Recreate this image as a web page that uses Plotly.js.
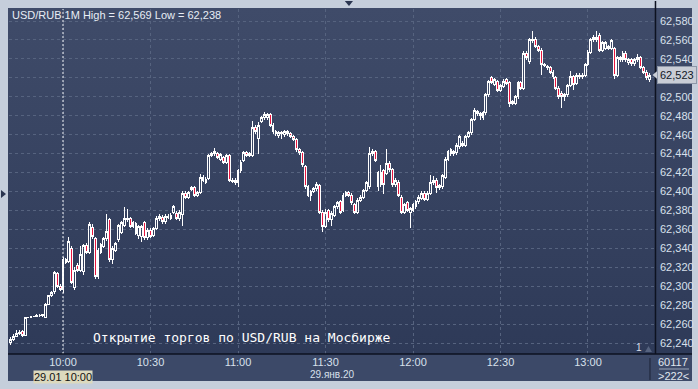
<!DOCTYPE html>
<html>
<head>
<meta charset="utf-8">
<script src="https://cdn.plot.ly/plotly-3.0.1.min.js"></script>
<style>
html,body{margin:0;padding:0;background:#c5cedb;width:698px;height:389px;overflow:hidden;}
#plotbg{position:absolute;left:8px;top:8px;width:684px;height:346px;background:linear-gradient(to bottom,#3f4b69,#2e3a58);}
#bottombar{position:absolute;left:8px;top:354px;width:684px;height:27px;background:#3c4968;}
#chart{position:absolute;left:0;top:0;width:698px;height:389px;}
#chart .cartesianlayer .trace path{shape-rendering:crispEdges;}
</style>
</head>
<body>
<div id="plotbg"></div>
<div id="bottombar"></div>
<div id="chart"></div>
<script>
// 1-minute candles, USD/RUB, 29.01.2020, starting 09:42
const START = '2020-01-29T09:42:00';
const openP = [62241,62244,62247,62250,62252,62248,62267,62267,62268,62268,62269,62269,62267,62281,62290,62294,62313,62300,62296,62328,
62326,62340,62299,62322,62317,62315,62343,62336,62362,62350,62310,62336,62342,62350,62370,62328,62338,62349,62357,62364,
62370,62371,62363,62366,62354,62352,62367,62351,62359,62354,62361,62371,62373,62368,62374,62372,62378,62377,62372,62376,
62398,62394,62404,62404,62396,62399,62412,62413,62414,62438,62440,62440,62434,62436,62431,62438,62412,62412,62409,62422,
62433,62441,62438,62438,62468,62456,62474,62478,62478,62481,62470,62463,62459,62461,62460,62463,62461,62458,62455,62444,
62441,62426,62405,62396,62400,62403,62406,62378,62363,62380,62370,62375,62384,62389,62380,62396,62399,62396,62386,62378,
62391,62394,62401,62405,62440,62442,62420,62407,62422,62419,62430,62423,62407,62410,62394,62378,62388,62378,62380,62384,
62389,62393,62398,62392,62398,62409,62412,62404,62405,62415,62434,62444,62440,62441,62447,62451,62449,62458,62462,62476,
62484,62482,62478,62483,62502,62520,62513,62516,62507,62511,62518,62515,62493,62493,62500,62515,62509,62546,62537,62559,
62560,62553,62549,62534,62532,62531,62526,62520,62509,62504,62500,62502,62512,62521,62514,62523,62521,62523,62534,62547,
62560,62563,62565,62549,62551,62553,62551,62551,62523,62541,62539,62546,62536,62539,62535,62539,62541,62531,62526,62518];
const highP = [62246,62250,62254,62254,62254,62268,62268,62269,62269,62271,62271,62271,62282,62291,62295,62316,62315,62302,62331,62330,
62352,62342,62320,62324,62342,62345,62346,62368,62366,62352,62340,62346,62352,62376,62372,62342,62347,62366,62369,62384,
62382,62373,62369,62368,62365,62365,62369,62361,62361,62363,62374,62376,62375,62376,62376,62377,62386,62379,62380,62400,
62400,62401,62406,62406,62401,62418,62417,62415,62440,62442,62446,62442,62441,62438,62440,62440,62414,62414,62424,62433,
62443,62443,62442,62474,62470,62473,62480,62484,62483,62483,62472,62465,62464,62464,62465,62465,62463,62460,62457,62446,
62443,62428,62407,62402,62405,62410,62408,62380,62381,62382,62379,62386,62390,62391,62398,62401,62401,62398,62388,62393,
62396,62403,62411,62447,62445,62444,62422,62428,62424,62445,62432,62425,62414,62412,62396,62388,62390,62384,62388,62391,
62396,62400,62400,62400,62417,62416,62414,62408,62419,62436,62444,62446,62444,62451,62460,62453,62460,62464,62478,62488,
62486,62484,62485,62504,62518,62522,62520,62518,62514,62519,62520,62517,62497,62502,62517,62517,62548,62548,62562,62569,
62563,62555,62551,62536,62534,62533,62528,62522,62511,62506,62504,62514,62527,62523,62525,62525,62525,62536,62549,62562,
62565,62569,62567,62559,62559,62555,62561,62553,62543,62543,62548,62548,62541,62541,62541,62545,62543,62533,62528,62525];
const lowP = [62238,62242,62246,62248,62246,62247,62266,62266,62267,62267,62268,62268,62266,62280,62289,62292,62298,62295,62293,62323,
62324,62302,62296,62315,62315,62312,62334,62334,62350,62308,62308,62334,62340,62348,62326,62323,62336,62347,62355,62362,
62368,62361,62361,62354,62350,62347,62349,62349,62351,62352,62359,62369,62366,62366,62371,62370,62376,62370,62369,62364,
62392,62392,62400,62394,62394,62397,62410,62408,62412,62436,62438,62434,62432,62429,62429,62410,62409,62407,62405,62420,
62431,62436,62436,62436,62461,62440,62472,62476,62476,62468,62461,62459,62456,62455,62458,62459,62456,62453,62442,62439,
62426,62403,62394,62390,62398,62401,62376,62357,62361,62368,62364,62373,62382,62376,62378,62394,62394,62386,62376,62376,
62389,62392,62399,62403,62438,62431,62400,62405,62397,62417,62421,62405,62405,62394,62376,62376,62378,62361,62378,62382,
62387,62391,62390,62390,62396,62407,62398,62402,62403,62413,62432,62438,62438,62439,62445,62447,62447,62456,62460,62474,
62480,62476,62476,62481,62500,62513,62511,62505,62505,62509,62512,62489,62491,62491,62498,62507,62507,62539,62535,62557,
62551,62547,62523,62531,62528,62524,62519,62507,62498,62488,62496,62500,62510,62507,62512,62519,62519,62521,62532,62545,
62558,62558,62547,62547,62549,62549,62549,62519,62521,62537,62537,62537,62534,62533,62533,62537,62529,62524,62518,62516];
const closeP = [62244,62247,62250,62251,62248,62267,62267,62268,62268,62269,62269,62270,62281,62290,62293,62314,62300,62297,62328,62325,
62347,62304,62317,62317,62333,62343,62336,62365,62352,62310,62338,62344,62350,62358,62328,62340,62345,62364,62367,62372,
62372,62363,62367,62356,62363,62363,62351,62359,62353,62361,62372,62374,62368,62374,62373,62375,62384,62372,62378,62398,
62394,62399,62402,62396,62399,62415,62415,62410,62438,62440,62442,62436,62439,62431,62438,62412,62411,62409,62422,62431,
62441,62438,62440,62468,62463,62470,62478,62481,62481,62470,62463,62461,62462,62462,62463,62461,62458,62455,62444,62441,
62428,62405,62396,62400,62403,62407,62378,62363,62378,62370,62377,62384,62388,62378,62396,62399,62396,62388,62378,62391,
62394,62401,62409,62440,62442,62433,62405,62420,62407,62430,62423,62407,62412,62396,62378,62386,62380,62382,62386,62389,
62394,62398,62392,62398,62409,62412,62404,62406,62417,62434,62442,62440,62442,62449,62458,62449,62458,62462,62476,62486,
62482,62480,62483,62502,62516,62515,62518,62507,62512,62516,62514,62493,62495,62500,62515,62509,62546,62541,62560,62561,
62553,62549,62534,62533,62531,62526,62521,62509,62500,62500,62502,62512,62521,62513,62523,62521,62523,62534,62547,62560,
62563,62560,62549,62557,62557,62551,62559,62523,62541,62539,62546,62539,62539,62535,62539,62541,62531,62526,62520,62523];
const yTicks = [62240,62260,62280,62300,62320,62340,62360,62380,62400,62420,62440,62460,62480,62500,62520,62540,62560,62580];
const barsLabel = '>222<';
const volLabel = '60117';

// minute timestamps
function pad(n){return (n<10?'0':'')+n;}
const t0 = new Date(START);
const times = openP.map((_, i) => {
  const d = new Date(t0.getTime() + i*60000);
  return '2020-01-29 ' + pad(d.getHours()) + ':' + pad(d.getMinutes());
});

const fmt = v => v.toLocaleString('en-US');
const hi = Math.max(...highP), lo = Math.min(...lowP);
const last = closeP[closeP.length-1];
// the last-price box hides the tick label it covers
const yText = yTicks.map(v => Math.abs(v - last) < 10 ? '' : fmt(v));

const trace = {
  type: 'candlestick',
  x: times, open: openP, high: highP, low: lowP, close: closeP,
  increasing: {line: {color: '#ffffff', width: 1}, fillcolor: 'rgba(0,0,0,0)'},
  decreasing: {line: {color: '#ffffff', width: 1}, fillcolor: '#e8163f'},
  whiskerwidth: 0,
  hoverinfo: 'skip',
  showlegend: false
};

const tickFont = {family: 'Liberation Sans, Arial, sans-serif', size: 11, color: '#d8e0ec'};

const layout = {
  width: 698, height: 389,
  margin: {l: 9, r: 42, t: 9, b: 35, pad: 0},
  paper_bgcolor: 'rgba(0,0,0,0)',
  plot_bgcolor: 'rgba(0,0,0,0)',
  showlegend: false,
  boxgap: 0.1,
  xaxis: {
    type: 'date',
    range: ['2020-01-29 09:41:29', '2020-01-29 13:23:19'],
    tickformat: '%H:%M', dtick: 1800000, tick0: '2020-01-29 10:00',
    showgrid: true, gridcolor: '#56637f', gridwidth: 1, griddash: '3px,3px',
    ticks: '', ticklabelstandoff: 0,
    tickfont: tickFont,
    showline: false, zeroline: false,
    rangeslider: {visible: false}, fixedrange: true
  },
  yaxis: {
    side: 'right',
    range: [62228.4, 62592.7],
    tickvals: yTicks, ticktext: yText,
    showgrid: true, gridcolor: '#56637f', gridwidth: 1, griddash: '3px,3px',
    ticks: '', ticklabelstandoff: 3,
    tickfont: tickFont,
    showline: false, zeroline: false, fixedrange: true
  },
  shapes: [
    {type: 'line', xref: 'x', yref: 'paper', x0: '2020-01-29 10:00', x1: '2020-01-29 10:00', y0: 0, y1: 1,
     line: {color: '#f2f4f8', width: 1, dash: '2px,2px'}},
    {type: 'line', xref: 'paper', yref: 'paper', x0: 0.9992, x1: 0.9992, y0: 0, y1: 1.0232,
     line: {color: '#0d1220', width: 1.5}},
    {type: 'line', xref: 'paper', yref: 'paper', x0: -0.0015, x1: 1.0556, y0: 0, y1: 0,
     line: {color: '#0d1220', width: 1.5}},
    {type: 'line', xref: 'paper', yref: 'paper', x0: 0.9907, x1: 0.9907, y0: -0.0116, y1: -0.0754,
     line: {color: '#1c2335', width: 1}},
    {type: 'line', xref: 'paper', yref: 'paper', x0: 1.0046, x1: 1.0510, y0: -0.0435, y1: -0.0435,
     line: {color: '#9aa6b8', width: 1}},
    {type: 'path', xref: 'paper', yref: 'paper', path: 'M 0.519 1.0232 L 0.5317 1.0232 L 0.5255 1.0087 Z',
     fillcolor: '#2a3550', line: {width: 0}},
    {type: 'path', xref: 'paper', yref: 'paper', path: 'M -0.01236 0.4754 L -0.01236 0.4522 L -0.00464 0.4638 Z',
     fillcolor: '#2a3550', line: {width: 0}},
    {type: 'path', xref: 'paper', yref: 'paper', path: 'M 0.9830 0.0058 L 0.9938 0.0058 L 0.9884 0.0232 Z',
     fillcolor: '#56637f', line: {width: 0}},
    {type: 'path', xref: 'paper', yref: 'y', path: 'M 0.9946 ' + last + ' L 1.0015 ' + (last+4) + ' L 1.0015 ' + (last-4) + ' Z',
     fillcolor: '#c9cdd6', line: {width: 0}}
  ],
  annotations: [
    {xref: 'paper', yref: 'paper', x: 0.0015, y: 0.9826, xanchor: 'left', yanchor: 'middle', showarrow: false,
     text: 'USD/RUB 1M High = ' + fmt(hi) + ' Low = ' + fmt(lo),
     font: {family: 'Liberation Sans, Arial, sans-serif', size: 11, color: '#e8edf5'}},
    {xref: 'paper', yref: 'y', x: 1.0015, y: last, xanchor: 'left', yanchor: 'middle', showarrow: false,
     text: fmt(last), bgcolor: '#c9cdd6', bordercolor: '#8e97a8', borderwidth: 1, borderpad: 2,
     font: {family: 'Liberation Sans, Arial, sans-serif', size: 11, color: '#111827'}},
    {xref: 'paper', yref: 'paper', x: 0.1267, y: 0.0464, xanchor: 'left', yanchor: 'middle', showarrow: false,
     text: 'Открытие торгов по USD/RUB на Мосбирже',
     font: {family: 'DejaVu Sans Mono, monospace', size: 13, color: '#ffffff'}},
    {xref: 'x', yref: 'paper', x: '2020-01-29 10:00', y: -0.0667, xanchor: 'center', yanchor: 'middle', showarrow: false,
     text: '29.01 10:00', bgcolor: '#dcd9be', borderpad: 0,
     font: {family: 'Liberation Sans, Arial, sans-serif', size: 11, color: '#111111'}},
    {xref: 'paper', yref: 'paper', x: 0.4992, y: -0.058, xanchor: 'center', yanchor: 'middle', showarrow: false,
     text: '29.янв.20', font: {family: 'Liberation Sans, Arial, sans-serif', size: 10, color: '#d8e0ec'}},
    {xref: 'paper', yref: 'paper', x: 1.0263, y: -0.0232, xanchor: 'center', yanchor: 'middle', showarrow: false,
     text: volLabel, font: {family: 'Liberation Sans, Arial, sans-serif', size: 11, color: '#e0e6ef'}},
    {xref: 'paper', yref: 'paper', x: 1.0263, y: -0.0638, xanchor: 'center', yanchor: 'middle', showarrow: false,
     text: barsLabel.replace(/</g,'&lt;').replace(/>/g,'&gt;'), font: {family: 'Liberation Sans, Arial, sans-serif', size: 11, color: '#e0e6ef'}},
    {xref: 'paper', yref: 'paper', x: 0.9737, y: 0.0174, xanchor: 'center', yanchor: 'middle', showarrow: false,
     text: '1', font: {family: 'Liberation Sans, Arial, sans-serif', size: 10, color: '#d8dfe9'}}
  ]
};

Plotly.newPlot('chart', [trace], layout, {staticPlot: true, displayModeBar: false});
</script>
</body>
</html>
